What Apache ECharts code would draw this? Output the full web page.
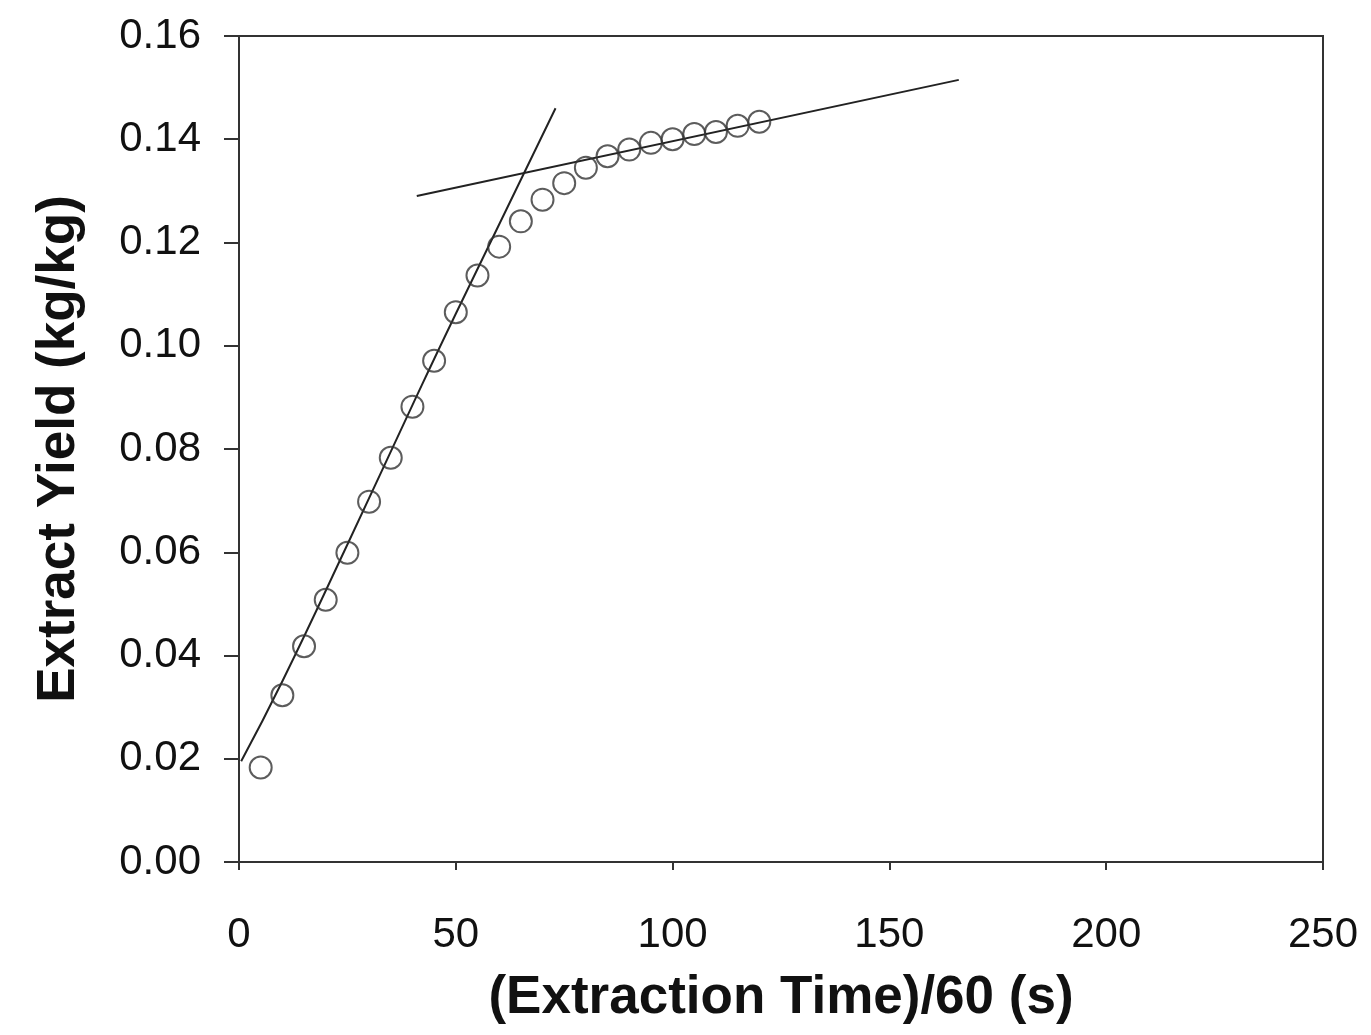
<!DOCTYPE html>
<html>
<head>
<meta charset="utf-8">
<script src="https://cdn.jsdelivr.net/npm/echarts@6/dist/echarts.min.js"></script>
<style>
html,body{margin:0;padding:0;background:#fff;}
#chart{width:1371px;height:1035px;}
</style>
</head>
<body>
<div id="chart"></div>
<script>
// Data
var timeMin = [5,10,15,20,25,30,35,40,45,50,55,60,65,70,75,80,85,90,95,100,105,110,115,120];
var yieldVals = [0.0183,0.0323,0.0418,0.0508,0.0599,0.0698,0.0783,0.0882,0.0971,0.1065,0.1136,0.1192,0.1241,0.1283,0.1315,0.1345,0.1367,0.1380,0.1393,0.1400,0.1410,0.1414,0.1426,0.1434];
var fit1X = [0.5,10,25,40,50,73];
var fit1Y = [0.0195,0.0350,0.0615,0.0885,0.1062,0.1460];
var fit2X = [41,166];
var fit2Y = [0.1290,0.1515];
var xTitle = '(Extraction Time)/60 (s)';
var yTitle = 'Extract Yield (kg/kg)';

function pairs(xs, ys){ return xs.map(function(x,i){ return [x, ys[i]]; }); }

var FONT = '"Liberation Sans", Arial, sans-serif';
var chart = echarts.init(document.getElementById('chart'), null, {renderer:'canvas'});
chart.setOption({
  backgroundColor:'#ffffff',
  animation:false,
  grid:{left:239, right:48, top:36, bottom:173, show:true, borderColor:'#333', borderWidth:2, backgroundColor:'transparent'},
  xAxis:{
    type:'value', min:0, max:250, interval:50,
    name:xTitle, nameLocation:'middle', nameGap:110,
    nameTextStyle:{fontFamily:FONT, fontWeight:'bold', fontSize:53, color:'#111'},
    axisLine:{show:true, onZero:false, lineStyle:{color:'#333', width:2}},
    axisTick:{show:true, inside:false, length:8, lineStyle:{color:'#333', width:2}},
    axisLabel:{fontFamily:FONT, fontSize:42, color:'#111', margin:52},
    splitLine:{show:false}
  },
  yAxis:{
    type:'value', min:0, max:0.16, interval:0.02,
    name:yTitle, nameLocation:'middle', nameGap:153, nameRotate:90,
    nameTextStyle:{fontFamily:FONT, fontWeight:'bold', fontSize:53, color:'#111'},
    axisLine:{show:true, onZero:false, lineStyle:{color:'#333', width:2}},
    axisTick:{show:true, inside:false, length:15, lineStyle:{color:'#333', width:2}},
    axisLabel:{fontFamily:FONT, fontSize:42, color:'#111', margin:38,
      formatter:function(v){ return v.toFixed(2); }},
    splitLine:{show:false}
  },
  series:[
    {type:'line', data:pairs(fit1X, fit1Y), showSymbol:false, smooth:true,
     lineStyle:{color:'#222', width:2}, z:3},
    {type:'line', data:pairs(fit2X, fit2Y), showSymbol:false,
     lineStyle:{color:'#222', width:2}, z:3},
    {type:'scatter', data:pairs(timeMin, yieldVals), symbol:'circle', symbolSize:22,
     itemStyle:{color:'rgba(255,255,255,0)', borderColor:'#333', borderWidth:2}, z:4}
  ]
});
</script>
</body>
</html>
